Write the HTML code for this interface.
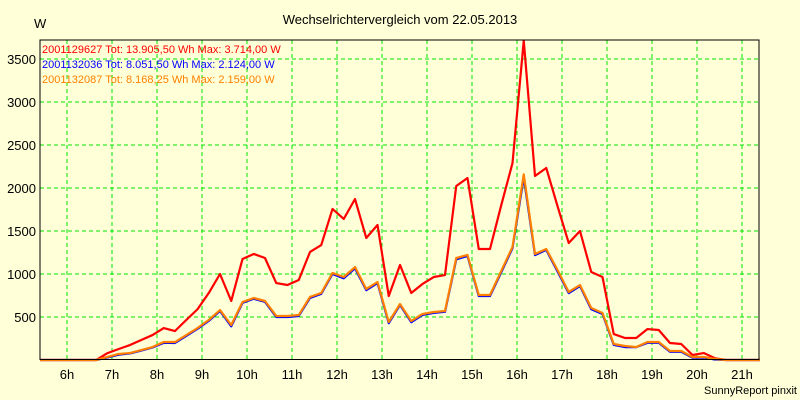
<!DOCTYPE html>
<html><head><meta charset="utf-8"><style>
body{margin:0;background:#ffffd8;}
svg{display:block;font-family:"Liberation Sans",sans-serif;}
</style></head><body>
<svg id="chart" width="800" height="400">
<rect x="0" y="0" width="800" height="400" fill="#ffffd8"/>
<text x="400" y="24" text-anchor="middle" font-size="13" fill="#000">Wechselrichtervergleich vom 22.05.2013</text>
<text x="34" y="28" font-size="13" fill="#000">W</text>
<text x="797" y="394" text-anchor="end" font-size="11" fill="#000">SunnyReport pinxit</text>
<g id="grid"></g>
<g id="series"></g>
<rect x="40" y="40" width="719" height="319.5" fill="none" stroke="#000" stroke-width="1"/>
<g id="legend" font-size="11">
<text x="42" y="53" fill="#ff0000">2001129627 Tot: 13.905,50 Wh Max: 3.714,00 W</text>
<text x="42" y="68" fill="#0000ff">2001132036 Tot: 8.051,50 Wh Max: 2.124,00 W</text>
<text x="42" y="83" fill="#ff8000">2001132087 Tot: 8.168,25 Wh Max: 2.159,00 W</text>
</g>
</svg>
<script>
const startHour = 5.4;
const stepHours = 0.25;
const xTickHours = [6,7,8,9,10,11,12,13,14,15,16,17,18,19,20,21];
const xTickLabels = ["6h","7h","8h","9h","10h","11h","12h","13h","14h","15h","16h","17h","18h","19h","20h","21h"];
const yTicks = [500,1000,1500,2000,2500,3000,3500];
const redValues = [0,0,0,0,0,0,80,128,174,233,290,372,337,465,590,779,1000,686,1174,1233,1186,895,872,930,1256,1337,1756,1640,1872,1419,1570,744,1105,779,884,965,988,2023,2116,1291,1291,1800,2290,3714,2140,2233,1790,1360,1500,1023,965,302,256,256,360,349,198,186,58,81,20,0,0,0,0];
const blueValues = [0,0,0,0,0,0,30,62,76,110,146,200,198,280,362,455,570,392,664,712,676,500,500,512,722,770,1000,950,1066,812,895,428,640,440,524,548,560,1170,1210,744,744,1020,1300,2124,1220,1280,1030,778,860,590,535,176,150,150,200,200,96,96,28,28,6,0,0,0,0];
const orangeValues = [0,0,0,0,0,0,35,70,81,116,151,209,209,290,372,465,581,407,674,721,686,512,512,523,733,779,1012,965,1081,826,907,442,651,453,535,558,570,1186,1221,756,756,1035,1314,2159,1233,1291,1046,791,872,605,547,186,163,151,209,209,105,105,35,35,12,0,0,0,0];

const X0 = 40, PXH = 45, Y0 = 360, PXW = 0.086;
function xScale(h){ return X0 + (h - startHour) * PXH; }
function yScale(v){ return Y0 - v * PXW; }
const NS = "http://www.w3.org/2000/svg";
const grid = document.getElementById('grid');
const svg = document.getElementById('chart');

xTickHours.forEach((h,i)=>{
  const l = document.createElementNS(NS,'line');
  
  
  l.setAttribute('x1', xScale(h)); l.setAttribute('x2', xScale(h));
  l.setAttribute('y1', 40); l.setAttribute('y2', 359);
  l.setAttribute('stroke', '#00e600'); l.setAttribute('stroke-dasharray', '4,3');
  grid.appendChild(l);
  const t = document.createElementNS(NS,'text');
  
  
  t.setAttribute('x', xScale(h)); t.setAttribute('y', 379);
  t.setAttribute('text-anchor', 'middle'); t.setAttribute('font-size', '13');
  t.textContent = xTickLabels[i];
  svg.appendChild(t);
});
yTicks.forEach(v=>{
  const l = document.createElementNS(NS,'line');
  
  
  l.setAttribute('x1', 40); l.setAttribute('x2', 759);
  l.setAttribute('y1', yScale(v)); l.setAttribute('y2', yScale(v));
  l.setAttribute('stroke', '#00e600'); l.setAttribute('stroke-dasharray', '4,3');
  grid.appendChild(l);
  const t = document.createElementNS(NS,'text');
  
  
  t.setAttribute('x', 36); t.setAttribute('y', yScale(v) + 5);
  t.setAttribute('text-anchor', 'end'); t.setAttribute('font-size', '13');
  t.textContent = String(v);
  svg.appendChild(t);
});
const seriesG = document.getElementById('series');
function drawLine(vals, color, name){
  const pts = vals.map((v,i)=> xScale(startHour + i*stepHours).toFixed(2)+','+yScale(v).toFixed(2)).join(' ');
  const p = document.createElementNS(NS,'polyline');
  
  
  p.setAttribute('points', pts);
  p.setAttribute('fill', 'none'); p.setAttribute('stroke', color);
  p.setAttribute('stroke-width', '2.2'); p.setAttribute('stroke-linejoin', 'round');
  seriesG.appendChild(p);
}
drawLine(redValues, '#ff0000', 'series-2001129627');
drawLine(blueValues, '#0000ff', 'series-2001132036');
drawLine(orangeValues, '#ff8000', 'series-2001132087');
</script>
</body></html>
